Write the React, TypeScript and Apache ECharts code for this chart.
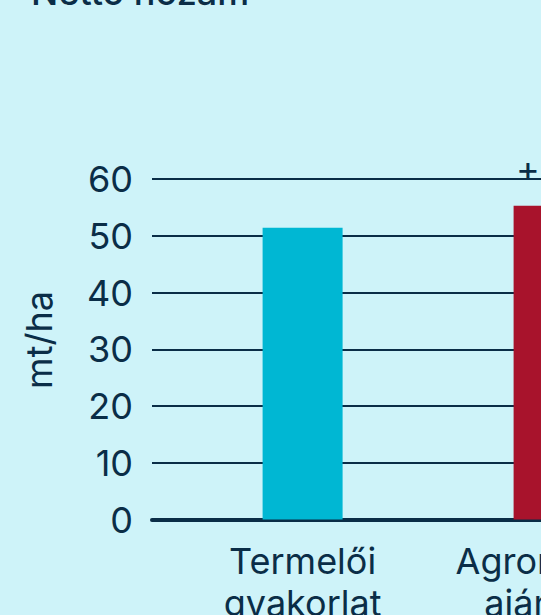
import React, { useEffect, useRef } from "react";
import * as echarts from "echarts";

const categories = ["Termelői\ngyakorlat", "Agronómus\najánlása"];
const categoryIndex = [0, 1];
const values = [51.4, 55.3];
const barLabels = ["", "+8%"];
const yTicks = { min: 0, max: 60, interval: 10 };
const barColors = ["#00B7D3", "#A8132C"];

const NAVY = "#0A2D47";
const BG = "#CEF3F9";
const FONT = "Inter, 'Noto Sans', sans-serif";

export default function App() {
  const ref = useRef<HTMLDivElement>(null);
  useEffect(() => {
    if (!ref.current) return;
    const chart = echarts.init(ref.current, undefined, { renderer: "svg" });
    chart.setOption({
      animation: false,
      backgroundColor: BG,
      textStyle: { fontFamily: FONT },
      title: {
        text: "Nettó hozam",
        left: 26,
        top: -31,
        textStyle: { fontFamily: FONT, fontSize: 36, fontWeight: 500, color: NAVY },
      },
      grid: {
        left: 152,
        top: 179,
        width: 2.2 * 251,
        height: 340.5,
        containLabel: false,
        outerBoundsMode: "none",
      },
      xAxis: {
        type: "value",
        min: -0.6,
        max: 1.6,
        splitLine: { show: false },
        axisTick: { show: false },
        axisLine: { show: true, onZero: false, lineStyle: { color: NAVY, width: 4 } },
        axisLabel: {
          customValues: categoryIndex,
          formatter: (v: number) => categories[Math.round(v)] ?? "",
          fontFamily: FONT,
          fontSize: 36,
          lineHeight: 42,
          color: NAVY,
          margin: 20,
        },
      },
      yAxis: {
        type: "value",
        min: yTicks.min,
        max: yTicks.max,
        interval: yTicks.interval,
        axisLine: { show: false },
        axisTick: { show: false },
        splitLine: { show: true, lineStyle: { color: NAVY, width: 2 } },
        axisLabel: { fontFamily: FONT, fontSize: 36, color: NAVY, margin: 19 },
      },
      graphic: [
        {
          type: "text",
          x: 39,
          y: 340,
          rotation: Math.PI / 2,
          style: {
            text: "mt/ha",
            fontFamily: FONT,
            fontSize: 36,
            fill: NAVY,
            align: "center",
            verticalAlign: "middle",
          },
        },
      ],
      series: [
        {
          type: "bar",
          barWidth: 80,
          data: categoryIndex.map((i) => ({
            value: [i, values[i]],
            itemStyle: { color: barColors[i] },
            label: {
              show: barLabels[i] !== "",
              position: "top",
              distance: 17,
              offset: [3, 0],
              formatter: barLabels[i],
              fontFamily: FONT,
              fontSize: 36,
              color: NAVY,
            },
          })),
          z: 3,
        },
      ],
    });
    return () => chart.dispose();
  }, []);
  return (
    <div
      style={{
        position: "fixed",
        left: 0,
        top: 0,
        width: "100vw",
        height: "100vh",
        overflow: "hidden",
        background: BG,
      }}
    >
      <div ref={ref} style={{ width: 780, height: 615 }} />
    </div>
  );
}
